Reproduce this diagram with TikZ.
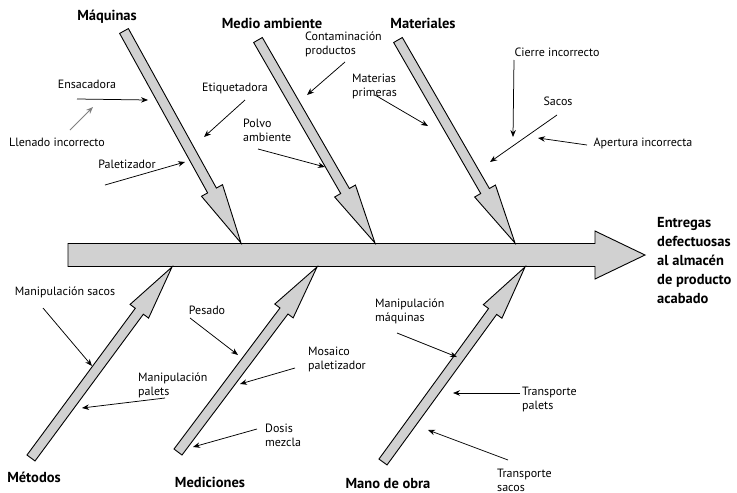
\documentclass[tikz,border=0pt]{standalone}
\usepackage{fontspec}
\setmainfont{PT Sans}
\usetikzlibrary{arrows.meta,calc}
\newcommand\boneArrow[5]{%
  \coordinate (fb) at ($(#2)!#5!(#1)$);
  \draw[bone] ($(#1)!#3!90:(#2)$) -- ($(fb)!#3!90:(#2)$) -- ($(fb)!#4!90:(#2)$) -- (#2)
    -- ($(fb)!#4!-90:(#2)$) -- ($(fb)!#3!-90:(#2)$) -- ($(#1)!#3!-90:(#2)$) -- cycle;}
\begin{document}
\begin{tikzpicture}[x=1pt,y=-1pt,
  bone/.style={draw=black,line width=0.9pt,fill=black!18,line join=miter},
  cat/.style={font=\fontsize{14.5}{19}\selectfont\bfseries,inner sep=0pt,align=left},
  lbl/.style={font=\fontsize{12}{14}\selectfont,inner sep=0pt,align=left},
  cause/.style={-{Stealth[length=7pt,width=5.5pt]},line width=0.75pt},
  faint/.style={cause,draw=black!50,fill=black!50}]
\useasboundingbox (0,0) rectangle (737,493);
% spine
\coordinate (spS) at (68,255);
\coordinate (spT) at (645,255);
\boneArrow{spS}{spT}{11.5pt}{24pt}{50pt}
% top bones
\coordinate (maqS) at (124,31);  \coordinate (maqT) at (241,243);
\coordinate (medS) at (258,40);  \coordinate (medT) at (375,243);
\coordinate (matS) at (398,40);  \coordinate (matT) at (515,243);
\boneArrow{maqS}{maqT}{5pt}{12pt}{60pt}
\boneArrow{medS}{medT}{5pt}{12pt}{60pt}
\boneArrow{matS}{matT}{5pt}{12pt}{60pt}
% bottom bones
\coordinate (metS) at (31,458);  \coordinate (metT) at (172,267);
\coordinate (mecS) at (178,452); \coordinate (mecT) at (317,267);
\coordinate (manS) at (383,462); \coordinate (manT) at (525,267);
\boneArrow{metS}{metT}{5pt}{11.5pt}{55pt}
\boneArrow{mecS}{mecT}{5pt}{11.5pt}{55pt}
\boneArrow{manS}{manT}{5pt}{11.5pt}{55pt}
% category labels
\node[cat] (lmaq) at (107,17) {Máquinas};
\node[cat] (lmed) at (272,23) {Medio ambiente};
\node[cat] (lmat) at (423,23) {Materiales};
\node[cat] (lmet) at (34,477) {Métodos};
\node[cat] (lmec) at (210,482) {Mediciones};
\node[cat] (lman) at (388,484) {Mano de obra};
\node[cat,anchor=west] (leff) at (657,261) {Entregas\\defectuosas\\al almacén\\de producto\\acabado};
% top causes
\node[lbl] (ens) at (87,84) {Ensacadora};
\coordinate (ensA) at (77,99); \coordinate (ensB) at (148,100);
\draw[cause] (ensA) -- (ensB);
\node[lbl] (lle) at (57,142) {Llenado incorrecto};
\coordinate (lleA) at (70,130); \coordinate (lleB) at (93,107);
\draw[faint] (lleA) -- (lleB);
\node[lbl] (eti) at (235,88) {Etiquetadora};
\coordinate (etiA) at (245,100); \coordinate (etiB) at (204,137);
\draw[cause] (etiA) -- (etiB);
\node[lbl] (pal) at (127,164) {Paletizador};
\coordinate (palA) at (105,185); \coordinate (palB) at (185,162);
\draw[cause] (palA) -- (palB);
\node[lbl,anchor=west] (pol) at (243,130) {Polvo\\ambiente};
\coordinate (polA) at (258,149); \coordinate (polB) at (325,167);
\draw[cause] (polA) -- (polB);
\node[lbl,anchor=west] (con) at (305,44) {Contaminación\\productos};
\coordinate (conA) at (345,62); \coordinate (conB) at (307,95);
\draw[cause] (conA) -- (conB);
\node[lbl,anchor=west] (mtp) at (352,86) {Materias\\primeras};
\coordinate (mtpA) at (375,95); \coordinate (mtpB) at (428,126);
\draw[cause] (mtpA) -- (mtpB);
\node[lbl] (cie) at (557,52) {Cierre incorrecto};
\coordinate (cieA) at (514,60); \coordinate (cieB) at (513,137);
\draw[cause] (cieA) -- (cieB);
\node[lbl] (sac) at (558,101) {Sacos};
\coordinate (sacA) at (557,115); \coordinate (sacB) at (490,162);
\draw[cause] (sacA) -- (sacB);
\node[lbl] (ape) at (643,143) {Apertura incorrecta};
\coordinate (apeA) at (587,145); \coordinate (apeB) at (538,138);
\draw[cause] (apeA) -- (apeB);
% bottom causes
\node[lbl] (mps) at (65,292) {Manipulación sacos};
\coordinate (mpsA) at (43,308); \coordinate (mpsB) at (92,366);
\draw[cause] (mpsA) -- (mpsB);
\node[lbl] (pes) at (207,310) {Pesado};
\coordinate (pesA) at (190,318); \coordinate (pesB) at (238,355);
\draw[cause] (pesA) -- (pesB);
\node[lbl,anchor=west] (mos) at (308,359) {Mosaico\\paletizador};
\coordinate (mosA) at (295,368); \coordinate (mosB) at (240,384);
\draw[cause] (mosA) -- (mosB);
\node[lbl,anchor=west] (mpp) at (138,385) {Manipulación\\palets};
\coordinate (mppA) at (165,398); \coordinate (mppB) at (82,408);
\draw[cause] (mppA) -- (mppB);
\node[lbl,anchor=west] (dos) at (265,435) {Dosis\\mezcla};
\coordinate (dosA) at (257,429); \coordinate (dosB) at (193,447);
\draw[cause] (dosA) -- (dosB);
\node[lbl,anchor=west] (mpm) at (375,311) {Manipulación\\máquinas};
\coordinate (mpmA) at (397,333); \coordinate (mpmB) at (457,357);
\draw[cause] (mpmA) -- (mpmB);
\node[lbl,anchor=west] (trp) at (522,399) {Transporte\\palets};
\coordinate (trpA) at (520,393); \coordinate (trpB) at (453,393);
\draw[cause] (trpA) -- (trpB);
\node[lbl,anchor=west] (trs) at (497,480) {Transporte\\sacos};
\coordinate (trsA) at (508,460); \coordinate (trsB) at (428,430);
\draw[cause] (trsA) -- (trsB);
\end{tikzpicture}
\end{document}
